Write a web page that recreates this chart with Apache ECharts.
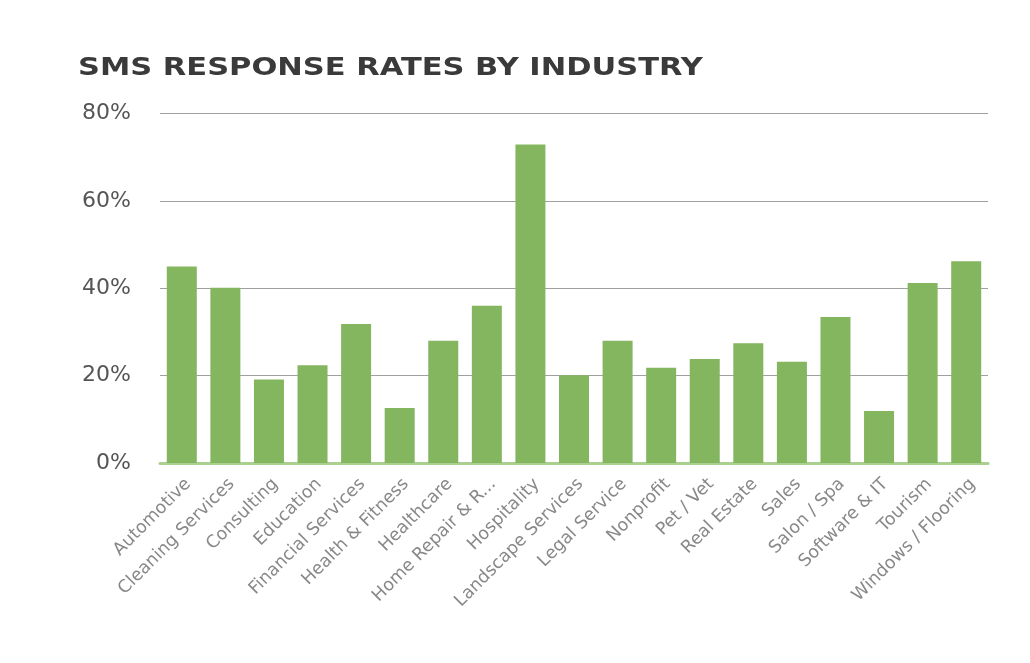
<!DOCTYPE html>
<html>
<head>
<meta charset="utf-8">
<script src="https://cdn.jsdelivr.net/npm/echarts@6/dist/echarts.min.js"></script>
<style>
html,body{margin:0;padding:0;background:#fff;}
#c{width:1030px;height:663px;}
</style>
</head>
<body>
<div id="c"></div>
<script>
var categories = ["Automotive","Cleaning Services","Consulting","Education","Financial Services","Health & Fitness","Healthcare","Home Repair & R...","Hospitality","Landscape Services","Legal Service","Nonprofit","Pet / Vet","Real Estate","Sales","Salon / Spa","Software & IT","Tourism","Windows / Flooring"];
var responseRates = [45.0, 40.1, 19.1, 22.4, 31.8, 12.6, 28.0, 36.0, 72.9, 20.1, 28.0, 21.8, 23.8, 27.4, 23.2, 33.4, 11.9, 41.2, 46.2];
var yTicks = [0, 20, 40, 60, 80];
var titleText = 'SMS RESPONSE RATES BY INDUSTRY';

var chart = echarts.init(document.getElementById('c'), null, {renderer:'canvas'});
chart.setOption({
  animation:false,
  backgroundColor:'#ffffff',
  graphic:[{
    type:'text',
    x:78, y:57,
    scaleX:1.27, scaleY:1,
    style:{
      text:titleText,
      font:'bold 24px "DejaVu Sans"',
      fill:'#3a3a3a',
      textVerticalAlign:'top'
    }
  }],
  grid:{left:160, right:42, top:113.5, bottom:200, containLabel:false},
  xAxis:{
    type:'category',
    data:categories,
    axisTick:{show:false},
    axisLine:{show:true, lineStyle:{color:'#a9d08e', width:3}},
    axisLabel:{
      interval:0, rotate:45, margin:12, verticalAlign:'top',
      fontFamily:'DejaVu Sans', fontSize:17.5, color:'#888888'
    }
  },
  yAxis:{
    type:'value',
    min:yTicks[0], max:yTicks[yTicks.length-1], interval:20,
    axisLine:{show:false}, axisTick:{show:false},
    splitLine:{show:true, lineStyle:{color:'#a0a0a0', width:1}},
    axisLabel:{
      margin:29,
      fontFamily:'DejaVu Sans', fontSize:22, color:'#555555',
      formatter:function(v){return v+'%';}
    }
  },
  series:[{
    type:'bar',
    data:responseRates,
    barWidth:30,
    itemStyle:{color:'#84b55f'}
  }]
});
</script>
</body>
</html>
